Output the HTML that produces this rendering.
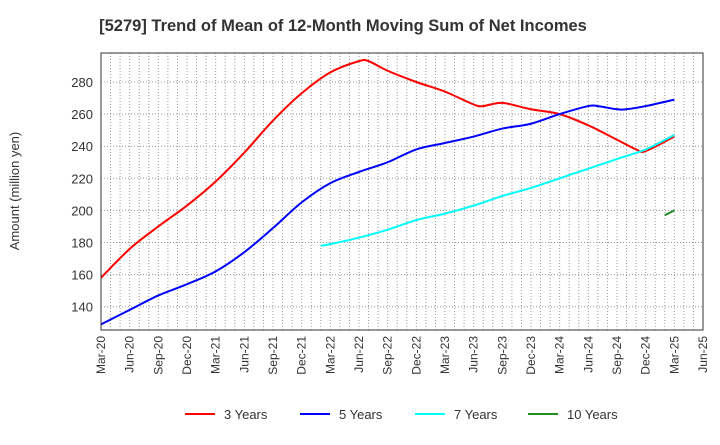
<!DOCTYPE html>
<html><head><meta charset="utf-8"><style>
body{margin:0;background:#fff;font-family:"Liberation Sans",sans-serif}
svg text{font-family:"Liberation Sans",sans-serif}
</style></head><body>
<svg id="c" width="720" height="440" xmlns="http://www.w3.org/2000/svg">
<text x="343" y="31" font-size="16.5" font-weight="bold" text-anchor="middle" fill="#333">[5279]  Trend of Mean of 12-Month Moving Sum of Net Incomes</text>
<text transform="translate(19,191) rotate(-90)" font-size="13" text-anchor="middle" fill="#333">Amount (million yen)</text>
<g id="grid"></g><g id="series"></g><g id="axes"></g><g id="legend"></g>
</svg>
<script>
const xLabels=["Mar-20","Jun-20","Sep-20","Dec-20","Mar-21","Jun-21","Sep-21","Dec-21","Mar-22","Jun-22","Sep-22","Dec-22","Mar-23","Jun-23","Sep-23","Dec-23","Mar-24","Jun-24","Sep-24","Dec-24","Mar-25","Jun-25"];
const yTicks=[140,160,180,200,220,240,260,280];
// month index from Mar-20
const m3=[0,3,6,9,12,15,18,21,24,27,28,30,33,36,39,40,42,45,48,51,54,56,57,60];
const v3=[158,176,190,203,218,236,256,273,286,293,293,287,280,274,266,265,267,263,260,253,244,238,237,246];
const m5=[0,3,6,9,12,15,18,21,24,27,30,33,36,39,42,45,48,51,52,54,55,57,60];
const v5=[129,138,147,154,162,174,189,205,217,224,230,238,242,246,251,254,260,265,265,263,263,265,269];
const m7=[23,24,27,30,33,36,39,42,45,48,51,54,57,60];
const v7=[178,179,183,188,194,198,203,209,214,220,226,232,238,247];
const m10=[59,60];
const v10=[197,200];
const L=101,R=703,T=53,B=330;
const X=m=>L+m*(R-L)/63;
const Y=v=>306.7-(v-140)*(306.7-82)/140;
const ns="http://www.w3.org/2000/svg";
function mk(p,tag,a){const e=document.createElementNS(ns,tag);for(const k in a)e.setAttribute(k,a[k]);document.getElementById(p).appendChild(e);return e;}
for(let m=0;m<=63;m++){const e=mk("grid","line",{x1:X(m),x2:X(m),y1:T,y2:B,stroke:"#999","stroke-width":1,"stroke-dasharray":"1,2"});

}
yTicks.forEach(v=>{const e=mk("grid","line",{x1:L,x2:R,y1:Y(v),y2:Y(v),stroke:"#999","stroke-width":1,"stroke-dasharray":"1,2"});


const t=mk("axes","text",{x:L-8,y:Y(v)+5,"font-size":13,"text-anchor":"end",fill:"#333"});t.textContent=v;

});
xLabels.forEach((s,i)=>{const x=X(i*3);const t=mk("axes","text",{transform:`translate(${x+4},${B+6}) rotate(-90)`,"font-size":12,"text-anchor":"end",fill:"#333"});t.textContent=s;

});
const fr=mk("axes","rect",{x:L,y:T,width:R-L,height:B-T,fill:"none",stroke:"#333","stroke-width":1});


function path(ms,vs){const p=ms.map((m,i)=>[X(m),Y(vs[i])]);if(p.length<3)return "M"+p.map(q=>q.join(",")).join("L");
let d="M"+p[0].join(",");for(let i=0;i<p.length-1;i++){const p0=p[Math.max(0,i-1)],p1=p[i],p2=p[i+1],p3=p[Math.min(p.length-1,i+2)];
d+=`C${p1[0]+(p2[0]-p0[0])/6},${p1[1]+(p2[1]-p0[1])/6} ${p2[0]-(p3[0]-p1[0])/6},${p2[1]-(p3[1]-p1[1])/6} ${p2[0]},${p2[1]}`;}return d;}
const S=[["3 Years",m3,v3,"#ff0000","series-3-years"],["5 Years",m5,v5,"#0000ff","series-5-years"],["7 Years",m7,v7,"#00ffff","series-7-years"],["10 Years",m10,v10,"#228b22","series-10-years"]];
const lx=[185,300,415,528];
S.forEach((s,i)=>{const e=mk("series","path",{d:path(s[1],s[2]),fill:"none",stroke:s[3],"stroke-width":2});


const g=mk("legend","g",{});


const l=document.createElementNS(ns,"line");l.setAttribute("x1",lx[i]);l.setAttribute("x2",lx[i]+30);l.setAttribute("y1",414);l.setAttribute("y2",414);l.setAttribute("stroke",s[3]);l.setAttribute("stroke-width",2);g.appendChild(l);
const t=document.createElementNS(ns,"text");t.setAttribute("x",lx[i]+39);t.setAttribute("y",419);t.setAttribute("font-size",13);t.setAttribute("fill","#333");t.textContent=s[0];g.appendChild(t);});
</script>
</body></html>
